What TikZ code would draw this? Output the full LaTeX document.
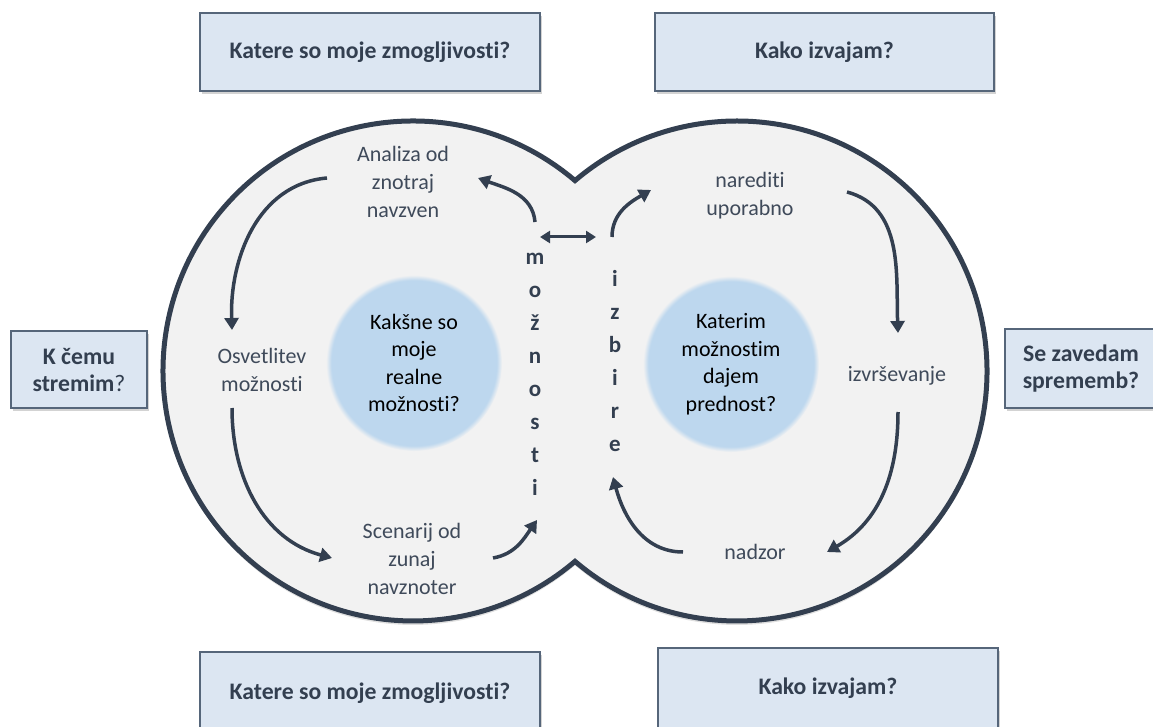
\documentclass[tikz,border=0pt]{standalone}
\usepackage{fontspec}
\setmainfont{Carlito}[Ligatures=NoCommon]
\usetikzlibrary{arrows.meta,shadows}
\definecolor{navy}{HTML}{333F50}
\definecolor{shapegray}{HTML}{F2F2F2}
\definecolor{boxblue}{HTML}{DCE6F2}
\definecolor{boxline}{HTML}{56667A}
\definecolor{discblue}{HTML}{BDD7EE}
\definecolor{labelgray}{HTML}{3F4A5A}
\pgfdeclareradialshading{softdisc}{\pgfpoint{0bp}{0bp}}{color(0bp)=(discblue); color(23.5bp)=(discblue); color(25bp)=(shapegray); color(50bp)=(shapegray)}
\tikzset{
  question/.style={draw=boxline, line width=1.2pt, fill=boxblue, text=navy,
    font=\fontsize{23.7}{27}\selectfont\bfseries, align=center, inner sep=0pt,
    drop shadow={shadow xshift=2pt, shadow yshift=-3pt, opacity=0.35}},
  stage/.style={text=labelgray, font=\fontsize{22}{28}\selectfont, align=center},
  core/.style={circle, inner sep=0pt, minimum size=176pt, shading=softdisc,
    text=black, font=\fontsize{22}{27.5}\selectfont, align=center},
  letters/.style={text=navy, font=\fontsize{23}{33}\selectfont\bfseries, align=center},
  cycle/.style={draw=navy, line width=3.5pt, -{Triangle[length=12pt,width=14pt]}},
}
\begin{document}
\begin{tikzpicture}[x=1pt,y=1pt]
  \useasboundingbox (0,0) rectangle (1153,-727);
  \path[fill=shapegray, draw=navy, line width=5pt,
    drop shadow={shadow xshift=0pt, shadow yshift=-4pt, opacity=0.25}]
    (575,-180.6) arc[start angle=49.6, end angle=310.4, radius=250]
    arc[start angle=229.6, end angle=490.4, radius=250] -- cycle;

  \node[question, minimum width=340pt, minimum height=78pt] (zmoznostitop) at (370,-52) {Katere so moje zmogljivosti?};
  \node[question, minimum width=339pt, minimum height=78pt] (izvajamtop) at (824.5,-52) {Kako izvajam?};
  \node[question, minimum width=136pt, minimum height=77pt] (stremim) at (79,-369.5) {K čemu\\stremim\textmd{?}};
  \node[question, minimum width=152pt, minimum height=79pt] (spremembe) at (1081,-368.5) {Se zavedam\\sprememb?};
  \node[question, minimum width=340pt, minimum height=82pt] (zmoznostibottom) at (370,-693) {Katere so moje zmogljivosti?};
  \node[question, minimum width=340pt, minimum height=80pt] (izvajambottom) at (828,-688) {Kako izvajam?};

  \node[core] (realne) at (414,-363) {Kakšne so\\moje\\realne\\možnosti?};
  \node[core] (prednost) at (731,-364) {Katerim\\možnostim\\dajem\\prednost?};

  \node[stage] (analiza) at (403,-182) {Analiza od\\znotraj\\navzven};
  \node[stage] (osvetlitev) at (262,-370) {Osvetlitev\\možnosti};
  \node[stage] (scenarij) at (412,-559) {Scenarij od\\zunaj\\navznoter};
  \node[stage] (narediti) at (750,-196) {narediti\\uporabno};
  \node[stage] (izvrsevanje) at (897,-376) {izvrševanje};
  \node[stage] (nadzor) at (755,-552) {nadzor};

  \node[letters] (moznosti) at (535,-374) {m\\o\\ž\\n\\o\\s\\t\\i};
  \node[letters] (izbire) at (615,-361) {i\\z\\b\\i\\r\\e};

  \coordinate (analiza-out) at (327,-178);
  \coordinate (osvetlitev-in) at (232,-330);
  \coordinate (osvetlitev-out) at (232,-408);
  \coordinate (scenarij-in) at (332,-558);
  \coordinate (scenarij-out) at (493,-558);
  \coordinate (moznosti-in) at (537,-520);
  \coordinate (moznosti-out) at (535,-222);
  \coordinate (analiza-in) at (478,-178);
  \coordinate (moznosti-link) at (540,-237);
  \coordinate (izbire-link) at (596,-237);
  \coordinate (izbire-out) at (612,-237);
  \coordinate (narediti-in) at (651,-190);
  \coordinate (narediti-out) at (847,-192);
  \coordinate (izvrsevanje-in) at (898,-333);
  \coordinate (izvrsevanje-out) at (898,-412);
  \coordinate (nadzor-in) at (827,-552);
  \coordinate (nadzor-out) at (683,-552);
  \coordinate (izbire-in) at (613,-477);

  \begin{scope}[cycle]
    \draw (analiza-out) to[out=185, in=92] (osvetlitev-in);
    \draw (osvetlitev-out) to[out=-90, in=165] (scenarij-in);
    \draw (scenarij-out) to[out=10, in=235] (moznosti-in);
    \draw (moznosti-out) to[out=95, in=-20] (analiza-in);
    \draw (izbire-out) to[out=90, in=210] (narediti-in);
    \draw (narediti-out) to[out=-15, in=92] (izvrsevanje-in);
    \draw (izvrsevanje-out) to[out=-90, in=30] (nadzor-in);
    \draw (nadzor-out) to[out=180, in=-75] (izbire-in);
  \end{scope}
  \draw[draw=navy, line width=3pt, {Triangle[length=10pt,width=12pt]}-{Triangle[length=10pt,width=12pt]}] (moznosti-link) -- (izbire-link);
\end{tikzpicture}
\end{document}
